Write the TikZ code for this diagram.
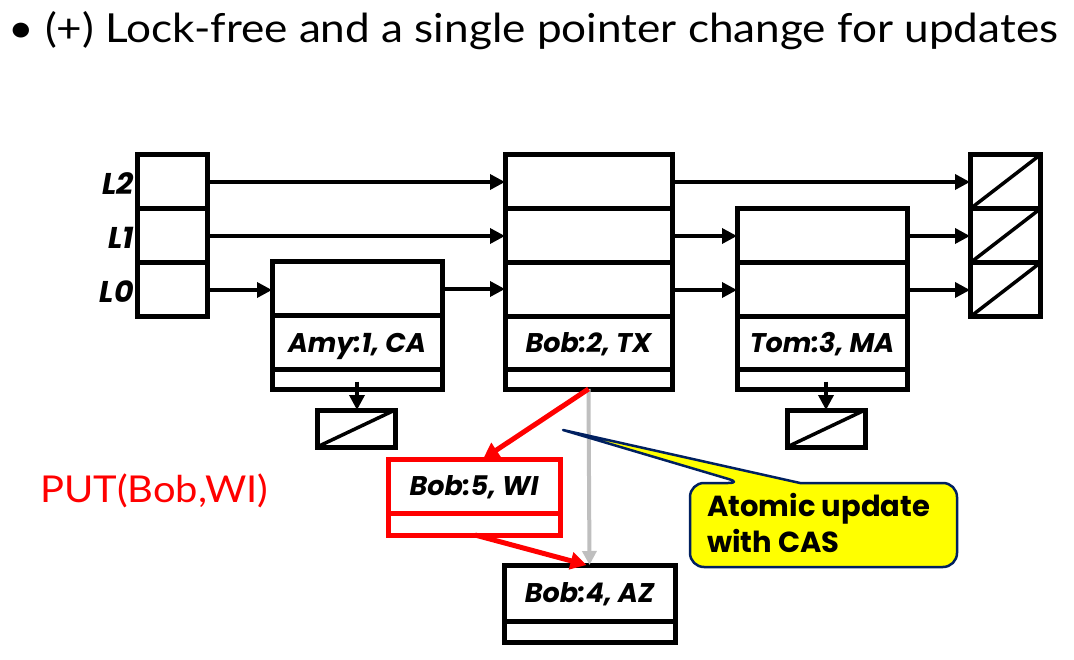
\documentclass[tikz,border=0pt]{standalone}
\usepackage{fontspec}
\usepackage{graphicx}
\setmainfont{Lato}
\newfontfamily\boxfont{Poppins}
\usetikzlibrary{arrows.meta}
\definecolor{navy}{RGB}{0,32,96}
\definecolor{cyellow}{RGB}{255,255,0}
\definecolor{pgray}{RGB}{191,191,191}
\definecolor{pred}{RGB}{255,0,0}
\begin{document}
\begin{tikzpicture}[x=1pt,y=-1pt,
  cell/.style={draw, line width=5pt, inner sep=0pt, outer sep=0pt},
  hw/.style={minimum width=70pt, minimum height=54pt},
  lbl/.style={font=\boxfont\bfseries\itshape\fontsize{27}{30}\selectfont, text height=19pt, text depth=0pt},
  llbl/.style={font=\boxfont\bfseries\itshape\fontsize{30}{32}\selectfont, text height=21pt, text depth=0pt, inner sep=0pt},
  ptr/.style={line width=3.5pt, -{Triangle[length=15pt,width=15pt]}},
  rptr/.style={line width=5pt, draw=pred, -{Triangle[length=16pt,width=17pt]}, fill=pred},
  gptr/.style={line width=4pt, draw=pgray, -{Triangle[length=14pt,width=14pt]}, fill=pgray},
  slash/.style={line width=3.5pt}
]
\path[use as bounding box] (0,0) rectangle (1074,660);

% title
\node[anchor=base west, inner sep=0pt, font=\fontsize{40}{44}\selectfont] (title) at (8,43)
  {\resizebox{1050pt}{\height}{\textbullet\ (+) Lock-free and a single pointer change for updates}};

% head
\node[cell, hw] (h2) at (172,182) {};
\node[cell, hw] (h1) at (172,236) {};
\node[cell, hw] (h0) at (172,290) {};
\node[llbl, anchor=east] (l2) at (134,184) {L2};
\node[llbl, anchor=east] (l1) at (134,238) {L1};
\node[llbl, anchor=east] (l0) at (134,292) {L0};

% Amy
\node[cell, minimum width=170pt, minimum height=54pt] (a_l0) at (357,289) {};
\node[cell, lbl, minimum width=170pt, minimum height=54pt] (a_txt) at (357,343) {Amy:1, CA};
\node[cell, minimum width=170pt, minimum height=19pt] (a_nx) at (357,379.5) {};
\node[cell, minimum width=78pt, minimum height=37pt] (an) at (356,428.5) {};

% Bob 2
\node[cell, minimum width=167pt, minimum height=54pt] (b_l2) at (588.5,182) {};
\node[cell, minimum width=167pt, minimum height=54pt] (b_l1) at (588.5,236) {};
\node[cell, minimum width=167pt, minimum height=54pt] (b_l0) at (588.5,290) {};
\node[cell, lbl, minimum width=167pt, minimum height=53pt] (b_txt) at (588.5,343.5) {Bob:2, TX};
\node[cell, minimum width=167pt, minimum height=19pt] (b_nx) at (588.5,379.5) {};

% Tom
\node[cell, minimum width=170pt, minimum height=54pt] (t_l1) at (822,236) {};
\node[cell, minimum width=170pt, minimum height=54pt] (t_l0) at (822,290) {};
\node[cell, lbl, minimum width=170pt, minimum height=53pt] (t_txt) at (822,343.5) {Tom:3, MA};
\node[cell, minimum width=170pt, minimum height=19pt] (t_nx) at (822,379.5) {};
\node[cell, minimum width=78pt, minimum height=37pt] (tn) at (826,428.5) {};

% tail
\node[cell, hw] (z2) at (1005,182) {};
\node[cell, hw] (z1) at (1005,236) {};
\node[cell, hw] (z0) at (1005,290) {};

% new Bob:5 (red)
\node[cell, lbl, draw=pred, minimum width=172pt, minimum height=54pt] (r_txt) at (474,486) {Bob:5, WI};
\node[cell, draw=pred, minimum width=172pt, minimum height=22pt] (r_nx) at (474,524) {};

% Bob:4
\node[cell, lbl, minimum width=171pt, minimum height=56pt] (n_txt) at (589.5,593) {Bob:4, AZ};
\node[cell, minimum width=171pt, minimum height=21pt] (n_nx) at (589.5,631.5) {};

% slashes
\foreach \n in {z2,z1,z0,an,tn} \draw[slash] (\n.south west) -- (\n.north east);

% pointers
\draw[ptr] (h2.east) -- (b_l2.west);
\draw[ptr] (h1.east) -- (b_l1.west);
\draw[ptr] (h0.east) -- (h0.east -| a_l0.west);
\draw[ptr] (a_l0.east) -- (a_l0.east -| b_l0.west);
\draw[ptr] (b_l2.east) -- (z2.west);
\draw[ptr] (b_l1.east) -- (t_l1.west);
\draw[ptr] (b_l0.east) -- (t_l0.west);
\draw[ptr] (t_l1.east) -- (z1.west);
\draw[ptr] (t_l0.east) -- (z0.west);
\draw[ptr] ([yshift=-2pt]a_nx.center) -- (a_nx.center |- an.north);
\draw[ptr] ([yshift=-2pt]tn.north |- t_nx.center) -- (tn.north);

\draw[gptr] (b_nx.south) -- (n_txt.north);
\draw[rptr] (b_nx.south) -- ([xshift=9pt]r_txt.north);
\draw[rptr] ([xshift=1pt]r_nx.south) -- ([xshift=-3pt]n_txt.north);

% PUT
\node[anchor=base west, inner sep=0pt, text=pred, font=\fontsize{37}{40}\selectfont] (put) at (40,502)
  {\resizebox{228pt}{\height}{PUT(Bob,WI)}};

% callout
\coordinate (tip) at (563,430);
\draw[line width=2.5pt, draw=navy, fill=cyellow, line join=round]
  (823,567) [rounded corners=14pt] -- (690,567) -- (690,483) -- (742,483) [sharp corners] -- (tip)
  -- (800,483) [rounded corners=14pt] -- (957,483) -- (957,567) -- cycle;
\node[anchor=west, align=left, inner sep=0pt, font=\boxfont\bfseries\fontsize{29}{36}\selectfont] (cas) at (707,523)
  {Atomic update\\with CAS};
\end{tikzpicture}
\end{document}
